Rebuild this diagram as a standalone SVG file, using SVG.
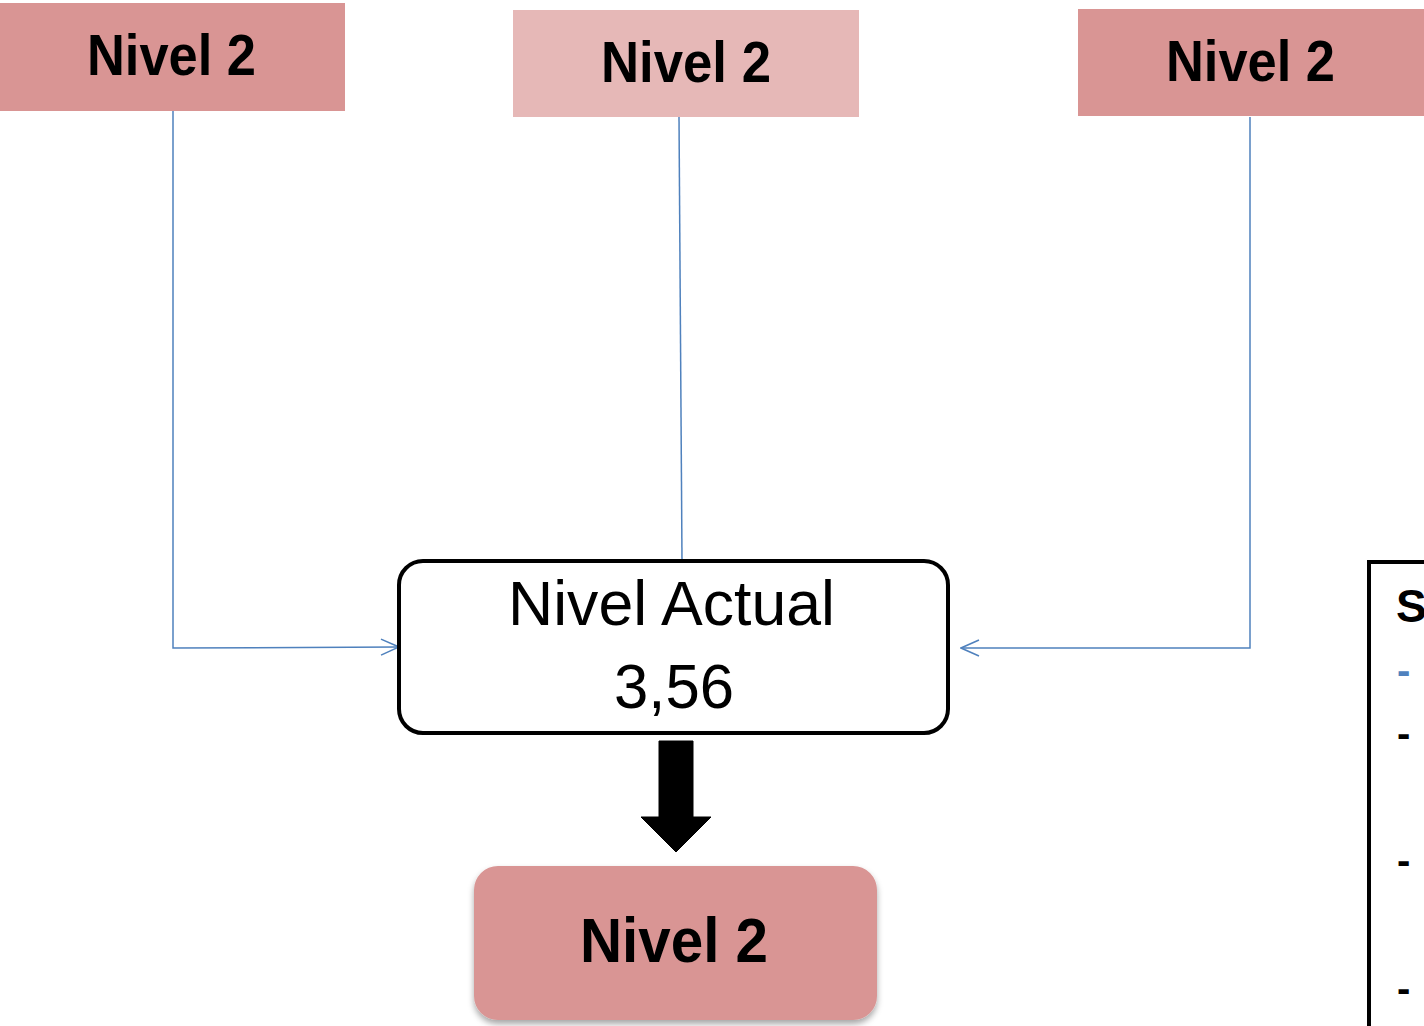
<svg xmlns="http://www.w3.org/2000/svg" width="1424" height="1026" viewBox="0 0 1424 1026">
<style>
.lvl{fill:#D99594}
.lvl-light{fill:#E6B8B7}
.bold{font-family:"Liberation Sans",Arial,sans-serif;font-weight:bold;fill:#000}
.reg{font-family:"Liberation Sans",Arial,sans-serif;fill:#000}
.conn{fill:none;stroke:#4F81BD;stroke-width:1.5}
</style>
<defs>
<marker id="open" viewBox="0 0 20 20" refX="19" refY="10" markerWidth="20" markerHeight="20" markerUnits="userSpaceOnUse" orient="auto">
<path d="M1,2 L19,10 L1,18" fill="none" stroke="#4F81BD" stroke-width="1.5"/>
</marker>
<filter id="shadow" x="-10%" y="-10%" width="120%" height="130%">
<feDropShadow dx="0" dy="4" stdDeviation="3" flood-color="#000" flood-opacity="0.35"/>
</filter>
</defs>
<rect width="1424" height="1026" fill="#fff"/>

<g id="connectors">
<polyline class="conn" points="173,111 173,648 399,647" marker-end="url(#open)"/>
<line class="conn" x1="679" y1="117" x2="682" y2="560"/>
<polyline class="conn" points="1250,117 1250,648 961,648" marker-end="url(#open)"/>
</g>

<g id="top-left">
<rect class="lvl" x="0" y="3" width="345" height="108"/>
<text class="bold" x="87" y="75" font-size="57" textLength="169" lengthAdjust="spacingAndGlyphs">Nivel 2</text>
</g>
<g id="top-middle">
<rect class="lvl-light" x="513" y="10" width="346" height="107"/>
<text class="bold" x="601" y="82" font-size="57" textLength="170" lengthAdjust="spacingAndGlyphs">Nivel 2</text>
</g>
<g id="top-right">
<rect class="lvl" x="1078" y="9" width="346" height="107"/>
<text class="bold" x="1166" y="81" font-size="57" textLength="169" lengthAdjust="spacingAndGlyphs">Nivel 2</text>
</g>

<g id="actual">
<rect x="399" y="561" width="549" height="172" rx="24" fill="#fff" stroke="#000" stroke-width="4"/>
<text class="reg" x="508" y="625" font-size="63" textLength="327" lengthAdjust="spacingAndGlyphs">Nivel Actual</text>
<text class="reg" x="614" y="708" font-size="63" textLength="120" lengthAdjust="spacingAndGlyphs">3,56</text>
</g>

<g id="block-arrow">
<path d="M659,741 L693,741 L693,817 L711,817 L676,852 L641,817 L659,817 Z" fill="#000" stroke="#000" stroke-width="1" stroke-linejoin="round"/>
</g>

<g id="result">
<rect class="lvl" x="474" y="866" width="403" height="154" rx="24" filter="url(#shadow)"/>
<text class="bold" x="580" y="962" font-size="63" textLength="188" lengthAdjust="spacingAndGlyphs">Nivel 2</text>
</g>

<g id="side-panel">
<path d="M1369,1026 L1369,562 L1424,562" fill="none" stroke="#000" stroke-width="4"/>
<text class="bold" x="1396" y="622" font-size="46">S</text>
<text class="bold" x="1397" y="684" font-size="40" style="fill:#4F81BD">-</text>
<text class="bold" x="1397" y="747" font-size="40">-</text>
<text class="bold" x="1397" y="874" font-size="40">-</text>
<text class="bold" x="1397" y="1002" font-size="40">-</text>
</g>
</svg>
